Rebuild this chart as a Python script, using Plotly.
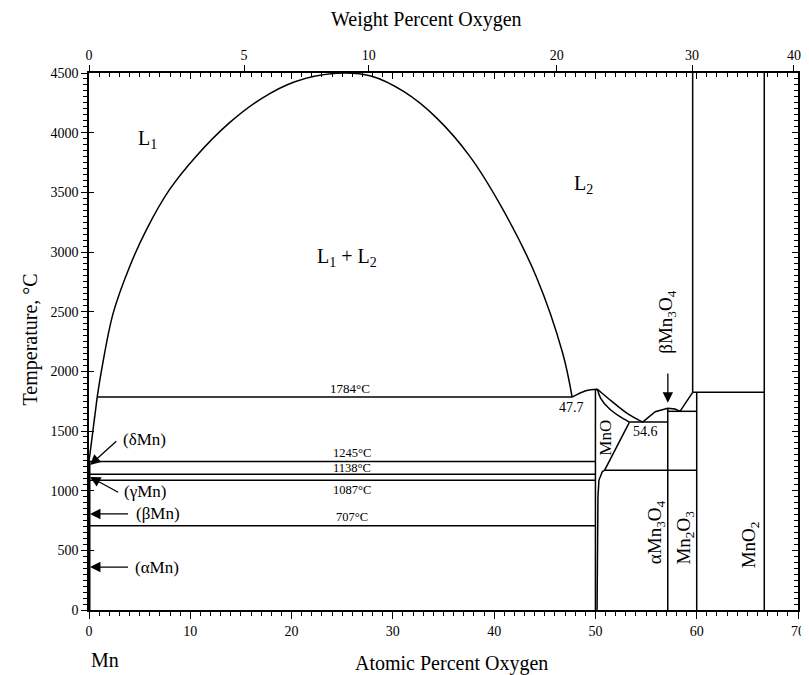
import plotly.graph_objects as go

FONT = "Liberation Serif"

# ---------------- data (atomic % O, temperature °C) ----------------
dome_x = [0.81, 1.24, 2.38, 4.01, 5.65, 7.93, 10.54, 13.80, 17.07, 20.33, 24.4,
          27.83, 31.10, 34.36, 37.62, 40.89, 44.16, 46.77, 47.7]
dome_y = [1784, 2011, 2486, 2877, 3184, 3520, 3799, 4078, 4288, 4427, 4497,
          4475, 4343, 4120, 3799, 3352, 2793, 2151, 1784]

mn_liq_x = [0, 0.81]
mn_liq_y = [1246, 1784]

mn_edge_x = [0, 0]
mn_edge_y = [0, 1246]

iso_temps = [1245, 1138, 1087, 707]
iso_x0, iso_x1 = 0, 50
mono_x = [0.81, 47.7]
mono_y = [1784, 1784]

mno_liqL_x = [47.7, 49.05, 50.2]
mno_liqL_y = [1784, 1838, 1850]
mno_left_x = [50, 50, 50.2]
mno_left_y = [0, 1842, 1850]
mno_liqR_x = [50.2, 51.65, 53.13, 54.66]
mno_liqR_y = [1850, 1746, 1648, 1575]
mno_sol_x = [50.2, 50.52, 51.33, 52.31, 53.36]
mno_sol_y = [1850, 1774, 1690, 1626, 1575]
mno_solv_x = [53.36, 50.91, 50.68, 50.35, 50.25, 50.19, 50.16]
mno_solv_y = [1575, 1172, 1159, 1089, 949, 587, 0]

eut_x = [53.36, 57.14]
eut_y = [1575, 1575]
trans_x = [50.91, 60]
trans_y = [1172, 1172]

m34_liq_x = [54.66, 55.9, 57.14, 57.86, 58.35, 59.6]
m34_liq_y = [1575, 1662, 1690, 1684, 1665, 1824]

m34_x = [57.14, 57.14]
m34_y = [0, 1690]
per_x = [57.14, 60]
per_y = [1665, 1665]
m23_x = [60, 60]
m23_y = [0, 1824]
h1824_x = [59.6, 66.67]
h1824_y = [1824, 1824]
gas_x = [59.6, 59.6]
gas_y = [1824, 4500]
mno2_x = [66.67, 66.67]
mno2_y = [0, 4500]

# axis ticks
at_ticks = [0, 10, 20, 30, 40, 50, 60, 70]
t_ticks = [0, 500, 1000, 1500, 2000, 2500, 3000, 3500, 4000, 4500]
wt_ticks = [0, 5, 10, 20, 30, 40]
M_O, M_MN = 15.999, 54.938


def wt_to_at(w):
    a = w / M_O
    b = (100 - w) / M_MN
    return 100 * a / (a + b)


wt_pos = [wt_to_at(w) for w in wt_ticks]

fig = go.Figure()
LW = 1.5


def line(x, y, w=LW, shape="linear"):
    fig.add_trace(go.Scatter(x=x, y=y, mode="lines",
                             line=dict(color="black", width=w, shape=shape),
                             hoverinfo="skip", showlegend=False))


line(dome_x, dome_y, shape="spline")
line(mn_liq_x, mn_liq_y)
line(mn_edge_x, mn_edge_y, 3)
line(mono_x, mono_y)
for t in iso_temps:
    line([iso_x0, iso_x1], [t, t])
line(mno_liqL_x, mno_liqL_y, shape="spline")
line(mno_left_x, mno_left_y)
line(mno_liqR_x, mno_liqR_y, shape="spline")
line(mno_sol_x, mno_sol_y, shape="spline")
line(mno_solv_x, mno_solv_y)
line(eut_x, eut_y)
line(trans_x, trans_y)
line(m34_liq_x, m34_liq_y)
line(m34_x, m34_y)
line(per_x, per_y)
line(m23_x, m23_y)
line(h1824_x, h1824_y)
line(gas_x, gas_y)
line(mno2_x, mno2_y)

# dummy traces so overlay axes are drawn
for xa, ya in [("x2", "y"), ("x3", "y"), ("x", "y2"), ("x", "y3")]:
    fig.add_trace(go.Scatter(x=[0], y=[0], xaxis=xa, yaxis=ya, mode="markers",
                             marker=dict(opacity=0), hoverinfo="skip", showlegend=False))

tf = dict(family=FONT, size=14, color="black")
common = dict(range=[0, 70], showgrid=False, zeroline=False, showline=True,
              linecolor="black", linewidth=1.5)

anns = []


def txt(x, y, s, size=16, angle=0, xref="x", yref="y"):
    anns.append(dict(x=x, y=y, xref=xref, yref=yref, text=s, showarrow=False,
                     xanchor="center", yanchor="middle",
                     textangle=angle, font=dict(family=FONT, size=size, color="black")))


def arrow(x, y, ax, ay):
    anns.append(dict(x=x, y=y, ax=ax, ay=ay, xref="x", yref="y", axref="x", ayref="y",
                     text="", showarrow=True, arrowhead=2, arrowsize=1.6, arrowwidth=1.3,
                     arrowcolor="black", standoff=0, startstandoff=0))


txt(5.77, 3939, "L<sub>1</sub>", 20)
txt(48.8, 3562, "L<sub>2</sub>", 20)
txt(25.5, 2958, "L<sub>1</sub> + L<sub>2</sub>", 20)
txt(25.8, 1860, "1784°C", 13)
txt(26.0, 1312, "1245°C", 12.5)
txt(26.0, 1188, "1138°C", 12.5)
txt(26.0, 1006, "1087°C", 12.5)
txt(26.0, 779, "707°C", 12.5)
txt(47.6, 1695, "47.7", 14)
txt(54.9, 1494, "54.6", 14)
txt(51.0, 1440, "MnO", 17, -90)
txt(56.0, 654, "αMn<sub>3</sub>O<sub>4</sub>", 19, -90)
txt(58.8, 603, "Mn<sub>2</sub>O<sub>3</sub>", 19, -90)
txt(65.3, 545, "MnO<sub>2</sub>", 19, -90)
txt(57.1, 2410, "βMn<sub>3</sub>O<sub>4</sub>", 19, -90)
arrow(57.15, 1737, 57.15, 1994)

arrow(0.1, 1215, 2.84, 1425)
txt(5.47, 1425, "(δMn)", 17)
arrow(0.1, 1115, 3.03, 980)
txt(5.57, 997, "(γMn)", 17)
arrow(0.1, 805, 4.0, 805)
txt(6.79, 805, "(βMn)", 17)
arrow(0.1, 360, 4.0, 360)
txt(6.74, 360, "(αMn)", 17)

txt(0.022, -0.093, "Mn", 20, xref="paper", yref="paper")
txt(0.511, -0.099, "Atomic Percent Oxygen", 20, xref="paper", yref="paper")
txt(0.476, 1.099, "Weight Percent Oxygen", 20, xref="paper", yref="paper")
txt(-0.0824, 0.503, "Temperature, °C", 20, -90, xref="paper", yref="paper")

fig.update_layout(
    width=801, height=667,
    margin=dict(l=81, r=4, t=65, b=65),
    paper_bgcolor="white", plot_bgcolor="white",
    showlegend=False,
    annotations=anns,
    xaxis=dict(**common, tickvals=at_ticks, ticks="outside", ticklen=7, tickwidth=1.2,
               tickcolor="black", tickfont=tf,
               minor=dict(dtick=1, ticks="outside", ticklen=4, tickcolor="black", tickwidth=1)),
    xaxis2=dict(**common, overlaying="x", side="top", anchor="y", tickvals=wt_pos,
                ticktext=[str(w) for w in wt_ticks], ticks="outside", ticklen=6,
                tickwidth=1.2, tickcolor="black", tickfont=tf),
    xaxis3=dict(**common, overlaying="x", side="top", anchor="y", tickvals=at_ticks,
                ticks="inside", ticklen=6, tickwidth=1.2, tickcolor="black",
                showticklabels=False,
                minor=dict(dtick=1, ticks="inside", ticklen=4, tickcolor="black", tickwidth=1)),
    yaxis=dict(range=[0, 4500], showgrid=False, zeroline=False, showline=True,
               linecolor="black", linewidth=1.5, tickvals=t_ticks, ticks="outside",
               ticklen=6, tickwidth=1.2, tickcolor="black", tickfont=tf,
               minor=dict(dtick=50, ticks="outside", ticklen=4, tickcolor="black", tickwidth=1)),
    yaxis2=dict(range=[0, 4500], overlaying="y", side="right", anchor="x", showgrid=False,
                zeroline=False, showline=True, linecolor="black", linewidth=1.5,
                tickvals=t_ticks, ticks="inside", ticklen=6, tickwidth=1.2, tickcolor="black",
                showticklabels=False,
                minor=dict(dtick=50, ticks="inside", ticklen=4, tickcolor="black", tickwidth=1)),
    yaxis3=dict(range=[0, 4500], overlaying="y", side="left", anchor="x", showgrid=False,
                zeroline=False, showline=False, tickvals=t_ticks, ticks="inside", ticklen=5,
                tickwidth=1.2, tickcolor="black", showticklabels=False),
)

fig.write_html("out.html")
